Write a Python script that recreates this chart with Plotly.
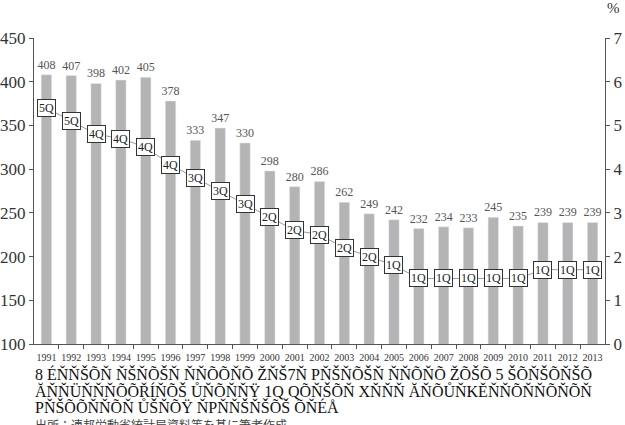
import plotly.graph_objects as go

years = [str(y) for y in range(1991, 2014)]
bar_values = [408, 407, 398, 402, 405, 378, 333, 347, 330, 298, 280, 286, 262, 249, 242,
              232, 234, 233, 245, 235, 239, 239, 239]
rate_values = [5.4, 5.1, 4.8, 4.7, 4.5, 4.1, 3.8, 3.5, 3.2, 2.9, 2.6, 2.5, 2.2, 2.0, 1.8,
               1.5, 1.5, 1.5, 1.5, 1.5, 1.7, 1.7, 1.7]
rate_labels = ["5Q", "5Q", "4Q", "4Q", "4Q", "4Q", "3Q", "3Q", "3Q", "2Q", "2Q", "2Q", "2Q",
               "2Q", "1Q", "1Q", "1Q", "1Q", "1Q", "1Q", "1Q", "1Q", "1Q"]
left_ticks = [100, 150, 200, 250, 300, 350, 400, 450]
right_ticks = [0, 1, 2, 3, 4, 5, 6, 7]
note_lines = [
    "8 ÉŇŇŠÕŇ ŇŠŇÕŠŇ ŇŇÕÕŇÕ ŽŇŠ7Ň PŇŠŇÕŠŇ ŇŇÕŇÕ ŽÕŠÕ 5 ŠÕŇŠÕŇŠÕ",
    "ĂŇŇÜŇŇŇÕÕŘÍŇÕŠ ŮŇÕŇŇŸ 1Q QÕŇŠÕŇ XŇŇŇ ĂŇÕŮŇKĚŇŇÕŇŇÕŇÕŇ",
    "PŇŠÕÕŇŇÕŇ ŮŠŇÕŸ ŇPŇŇŠŇŠÕŠ ÕŇÉÅ",
]
source_line = "出所：連邦労動省統計局資料等を基に筆者作成"

idx = list(range(len(years)))

fig = go.Figure()
fig.add_trace(go.Bar(
    x=idx, y=bar_values, marker_color="#b4b4b4",
    text=[str(v) for v in bar_values], textposition="outside", constraintext="none",
    textfont=dict(family="Liberation Serif", size=12, color="#555555"),
    cliponaxis=False, yaxis="y",
))
fig.add_trace(go.Scatter(
    x=idx, y=rate_values, mode="lines", line=dict(color="#9a9a9a", width=1),
    yaxis="y2",
))
for x, y, t in zip(idx, rate_values, rate_labels):
    fig.add_annotation(x=x, y=y, xref="x", yref="y2", text=t, showarrow=False,
                       font=dict(family="Liberation Serif", size=12, color="#222222"),
                       bgcolor="white", bordercolor="#333333", borderwidth=1, borderpad=1)

fig.add_annotation(x=1.0, y=1.065, xref="paper", yref="paper", text="%", showarrow=False,
                   xanchor="left", yanchor="bottom",
                   font=dict(family="Liberation Serif", size=15, color="#333333"))
ys = [-0.098, -0.152, -0.207]
for yy, t in zip(ys, note_lines):
    fig.add_annotation(x=-0.002, y=yy, xref="paper", yref="paper", text=t, showarrow=False,
                       xanchor="left", yanchor="middle",
                       font=dict(family="Liberation Serif", size=16, color="#111111"))
fig.add_annotation(x=-0.002, y=-0.262, xref="paper", yref="paper", text=source_line,
                   showarrow=False, xanchor="left", yanchor="middle",
                   font=dict(family="Noto Sans CJK JP", size=12, color="#444444"))

fig.update_layout(
    width=625, height=425, margin=dict(l=34, r=20, t=38, b=81),
    paper_bgcolor="white", plot_bgcolor="white", showlegend=False, bargap=0.58,
    xaxis=dict(range=[-0.5, len(years) - 0.5], tickvals=idx, ticktext=years,
               showline=True, linecolor="#555555", ticks="", showgrid=False, zeroline=False,
               ticklabelstandoff=4, automargin=False,
               tickfont=dict(family="Liberation Serif", size=10, color="#333333")),
    xaxis2=dict(range=[-0.5, len(years) - 0.5], tickvals=[i + 0.5 for i in idx[:-1]],
                ticktext=["" for _ in idx[:-1]], overlaying="x", side="bottom",
                ticks="outside", ticklen=4, tickcolor="#555555", showgrid=False,
                showline=False, zeroline=False, anchor="y", automargin=False),
    yaxis=dict(range=[100, 450], tickvals=left_ticks, showline=True, linecolor="#555555",
               ticks="outside", ticklen=4, tickcolor="#555555", showgrid=False, zeroline=False,
               automargin=False,
               tickfont=dict(family="Liberation Serif", size=17, color="#333333")),
    yaxis2=dict(range=[0, 7], tickvals=right_ticks, overlaying="y", side="right",
                showline=True, linecolor="#555555", ticks="outside", ticklen=4,
                tickcolor="#555555", showgrid=False, zeroline=False, automargin=False,
                tickfont=dict(family="Liberation Serif", size=17, color="#333333")),
)
fig.add_trace(go.Scatter(x=[0], y=[100], xaxis="x2", yaxis="y", mode="markers",
                         marker=dict(opacity=0), hoverinfo="skip"))
fig.write_html("out.html")
